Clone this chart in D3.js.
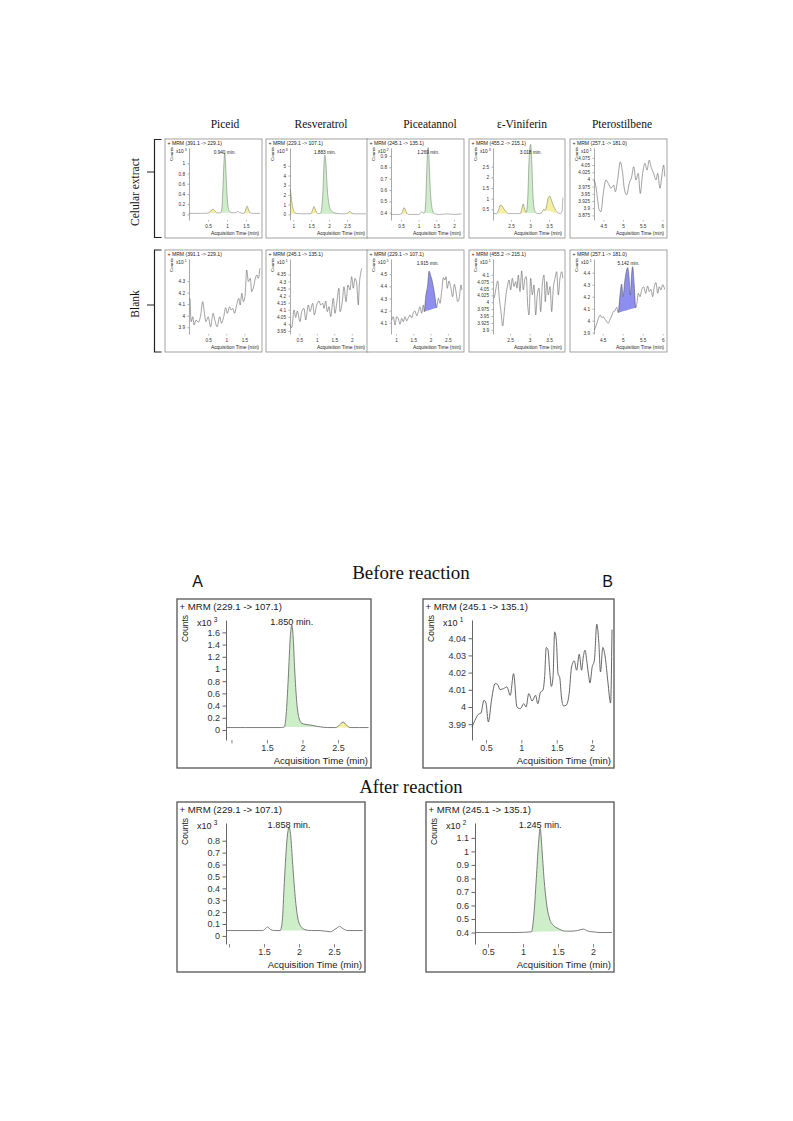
<!DOCTYPE html>
<html>
<head>
<meta charset="utf-8">
<script src="https://cdn.jsdelivr.net/npm/d3@7"></script>
<style>
  body { margin: 0; background: #fff; }
</style>
</head>
<body>
<svg id="fig" width="793" height="1121"></svg>
<script>
// ---- labels ----
const columnNames = ["Piceid", "Resveratrol", "Piceatannol", "ε-Viniferin", "Pterostilbene"]
const rowNames = ["Celular extract", "Blank"]

// ---- traces: [acquisition time (min), counts / 10^n] ----
const piceidCell = [[0.0,0.02],[0.3,0.02],[0.48,0.022],[0.54,0.04],[0.6,0.09],[0.64,0.1],[0.68,0.07],[0.74,0.03],[0.82,0.03],[0.86,0.08],[0.89,0.45],[0.92,1.0],[0.94,1.2],[0.96,1.05],[0.99,0.55],[1.02,0.2],[1.06,0.07],[1.12,0.035],[1.2,0.03],[1.25,0.04],[1.29,0.06],[1.33,0.035],[1.44,0.02],[1.48,0.06],[1.53,0.16],[1.57,0.09],[1.61,0.03],[1.7,0.02],[1.87,0.02]]
const resveratrolCell = [[0.91,2.6],[0.93,2.25],[0.96,1.3],[1.0,0.5],[1.04,0.2],[1.1,0.08],[1.2,0.06],[1.4,0.05],[1.5,0.08],[1.54,0.45],[1.58,0.8],[1.62,0.45],[1.67,0.1],[1.73,0.06],[1.78,0.3],[1.83,2.5],[1.86,5.3],[1.883,6.1],[1.91,5.3],[1.95,2.6],[2.0,1.0],[2.06,0.35],[2.15,0.15],[2.3,0.06],[2.45,0.05],[2.52,0.12],[2.58,0.3],[2.63,0.12],[2.7,0.05],[3.03,0.05]]
const piceatannolCell = [[0.22,0.385],[0.45,0.385],[0.51,0.39],[0.55,0.42],[0.59,0.445],[0.63,0.42],[0.68,0.39],[0.75,0.385],[1.0,0.385],[1.05,0.395],[1.09,0.41],[1.13,0.395],[1.17,0.4],[1.2,0.5],[1.23,0.77],[1.25,0.93],[1.269,0.975],[1.29,0.9],[1.32,0.66],[1.36,0.48],[1.4,0.415],[1.45,0.39],[1.6,0.385],[1.8,0.39],[2.0,0.385],[2.22,0.39]]
const viniferinCell = [[2.03,0.3],[2.12,0.3],[2.17,0.45],[2.22,0.7],[2.27,0.65],[2.32,0.5],[2.38,0.38],[2.43,0.3],[2.6,0.3],[2.74,0.3],[2.78,0.5],[2.82,0.75],[2.86,0.5],[2.9,0.35],[2.94,1.0],[2.98,3.0],[3.018,3.55],[3.05,2.5],[3.08,1.1],[3.12,0.45],[3.17,0.32],[3.25,0.3],[3.31,0.35],[3.36,0.5],[3.4,0.45],[3.44,0.7],[3.48,1.05],[3.52,1.12],[3.57,0.9],[3.62,0.65],[3.68,0.45],[3.75,0.32],[3.8,0.3],[3.84,0.4],[3.865,1.05]]
const pterostilbeneCell = [[4.27,3.998],[4.314,3.974],[4.357,3.928],[4.398,3.893],[4.441,3.888],[4.499,3.951],[4.568,3.998],[4.626,3.986],[4.694,3.969],[4.763,3.98],[4.804,3.957],[4.865,4.0],[4.931,4.061],[4.991,4.021],[5.032,3.969],[5.093,3.946],[5.159,3.986],[5.22,4.009],[5.271,4.044],[5.329,3.998],[5.387,4.021],[5.438,3.951],[5.499,4.021],[5.557,4.056],[5.608,4.032],[5.667,4.067],[5.71,4.044],[5.778,4.021],[5.837,3.998],[5.88,4.021],[5.938,3.969],[5.989,4.015],[6.03,4.05],[6.06,4.01]]

const piceidBlank = [[0.0,4.151],[0.029,3.948],[0.075,3.991],[0.11,3.919],[0.165,3.963],[0.227,3.943],[0.293,4.006],[0.347,4.122],[0.391,4.035],[0.437,3.948],[0.5,3.991],[0.565,3.904],[0.636,4.021],[0.683,3.963],[0.745,3.904],[0.819,3.991],[0.865,3.934],[0.928,3.991],[0.982,4.07],[1.028,4.021],[1.091,4.078],[1.137,4.05],[1.181,4.064],[1.228,4.021],[1.29,4.099],[1.345,4.151],[1.383,4.093],[1.427,4.195],[1.473,4.122],[1.519,4.18],[1.563,4.397],[1.609,4.296],[1.664,4.325],[1.699,4.209],[1.754,4.252],[1.8,4.325],[1.846,4.354],[1.882,4.325],[1.925,4.412]]
const resveratrolBlank = [[0.234,3.993],[0.283,3.974],[0.349,4.099],[0.397,4.045],[0.443,4.092],[0.52,4.016],[0.569,4.087],[0.634,4.11],[0.683,4.028],[0.757,4.134],[0.806,4.087],[0.883,4.146],[0.929,4.064],[0.997,4.134],[1.063,4.162],[1.111,4.134],[1.169,4.146],[1.206,4.11],[1.254,4.162],[1.3,4.087],[1.349,4.122],[1.397,4.052],[1.471,4.181],[1.52,4.075],[1.569,4.146],[1.634,4.252],[1.663,4.087],[1.729,4.157],[1.777,4.263],[1.834,4.157],[1.891,4.275],[1.949,4.24],[1.997,4.334],[2.043,4.252],[2.091,4.322],[2.14,4.287],[2.186,4.134],[2.214,4.275],[2.254,4.358],[2.283,4.393]]
const piceatannolBlank = [[0.876,4.122],[0.922,4.15],[0.971,4.081],[1.019,4.15],[1.067,4.131],[1.116,4.087],[1.164,4.136],[1.212,4.108],[1.26,4.15],[1.308,4.114],[1.356,4.141],[1.405,4.164],[1.453,4.141],[1.501,4.183],[1.549,4.197],[1.597,4.158],[1.646,4.191],[1.694,4.232],[1.742,4.178],[1.79,4.246],[1.818,4.191],[1.858,4.315],[1.916,4.412],[1.954,4.527],[2.003,4.488],[2.04,4.453],[2.079,4.398],[2.127,4.315],[2.176,4.224],[2.224,4.302],[2.272,4.26],[2.32,4.356],[2.368,4.472],[2.416,4.453],[2.445,4.48],[2.483,4.384],[2.532,4.445],[2.58,4.398],[2.638,4.315],[2.686,4.417],[2.734,4.356],[2.783,4.274],[2.83,4.307],[2.879,4.412],[2.905,4.37]]
const viniferinBlank = [[2.097,4.0145],[2.141,4.051],[2.185,4.0775],[2.226,4.0145],[2.269,3.966],[2.313,3.914],[2.354,3.966],[2.397,4.027],[2.441,4.063],[2.474,4.081],[2.518,4.045],[2.559,4.087],[2.603,4.057],[2.646,4.075],[2.679,4.051],[2.713,4.099],[2.756,4.039],[2.8,4.114],[2.841,4.045],[2.885,4.087],[2.918,4.093],[2.954,3.99],[2.987,3.954],[3.031,4.087],[3.072,4.027],[3.115,4.063],[3.159,3.954],[3.2,4.027],[3.244,4.051],[3.287,3.966],[3.328,4.063],[3.372,4.099],[3.405,4.002],[3.441,4.075],[3.482,4.027],[3.526,4.057],[3.569,3.966],[3.61,4.051],[3.654,4.087],[3.697,4.111],[3.738,4.027],[3.782,4.087],[3.826,4.111],[3.855,4.087]]
const pterostilbeneBlank = [[4.29,3.922],[4.333,3.956],[4.375,4.0],[4.408,4.033],[4.44,4.047],[4.475,4.025],[4.515,4.033],[4.558,4.011],[4.6,3.992],[4.64,3.978],[4.683,4.011],[4.725,4.039],[4.765,4.075],[4.808,4.083],[4.85,4.111],[4.89,4.067],[4.933,4.214],[4.975,4.306],[5.008,4.2],[5.05,4.325],[5.09,4.408],[5.125,4.442],[5.158,4.367],[5.19,4.214],[5.225,4.394],[5.25,4.45],[5.283,4.325],[5.325,4.108],[5.358,4.15],[5.39,4.228],[5.433,4.2],[5.475,4.256],[5.525,4.283],[5.575,4.228],[5.625,4.289],[5.665,4.242],[5.708,4.261],[5.75,4.2],[5.79,4.283],[5.833,4.317],[5.875,4.228],[5.915,4.283],[5.958,4.256],[6.0,4.3],[6.05,4.26]]

const resveratrolBefore = [[0.93,0.04],[1.2,0.04],[1.5,0.04],[1.7,0.04],[1.745,0.05],[1.77,0.25],[1.8,0.85],[1.83,1.55],[1.85,1.72],[1.87,1.5],[1.89,1.0],[1.92,0.45],[1.95,0.2],[1.99,0.11],[2.05,0.09],[2.12,0.08],[2.2,0.06],[2.26,0.05],[2.35,0.04],[2.47,0.04],[2.52,0.08],[2.57,0.13],[2.62,0.08],[2.67,0.04],[2.8,0.04],[2.93,0.04]]
const piceatannolBefore = [[0.302,3.9883],[0.343,3.9922],[0.39,3.9957],[0.429,3.9965],[0.471,4.0039],[0.5,4.0023],[0.533,3.9913],[0.581,4.0049],[0.629,4.0136],[0.662,4.0132],[0.7,4.0101],[0.748,4.0107],[0.795,4.0117],[0.843,4.0068],[0.89,4.0194],[0.938,4.0],[0.986,3.999],[1.033,4.0019],[1.067,4.0],[1.105,4.0078],[1.152,4.0035],[1.2,4.0068],[1.233,4.0019],[1.271,4.0087],[1.305,4.0097],[1.329,4.0175],[1.352,4.0346],[1.376,4.0334],[1.4,4.0214],[1.424,4.012],[1.448,4.0175],[1.471,4.0437],[1.495,4.0388],[1.519,4.0194],[1.543,4.0171],[1.567,4.0058],[1.595,4.0006],[1.633,4.001],[1.676,4.0078],[1.71,4.0233],[1.748,4.0268],[1.781,4.0214],[1.819,4.0307],[1.852,4.0214],[1.876,4.0291],[1.9,4.033],[1.924,4.0272],[1.948,4.0194],[1.971,4.014],[2.0,4.0229],[2.033,4.0272],[2.067,4.0482],[2.095,4.0379],[2.119,4.0204],[2.152,4.0346],[2.186,4.0291],[2.224,4.0146],[2.262,4.0023],[2.282,4.045]]
const resveratrolAfter = [[0.96,0.045],[1.3,0.045],[1.48,0.045],[1.52,0.06],[1.55,0.075],[1.59,0.055],[1.65,0.045],[1.73,0.045],[1.76,0.12],[1.79,0.45],[1.83,0.82],[1.858,0.915],[1.88,0.85],[1.91,0.6],[1.95,0.3],[1.99,0.13],[2.04,0.07],[2.1,0.05],[2.18,0.045],[2.3,0.045],[2.45,0.035],[2.5,0.05],[2.55,0.07],[2.58,0.08],[2.63,0.06],[2.7,0.045],[2.91,0.045]]
const piceatannolAfter = [[0.32,0.4],[0.6,0.4],[0.9,0.4],[1.12,0.405],[1.15,0.5],[1.19,0.8],[1.22,1.05],[1.245,1.17],[1.27,1.02],[1.3,0.8],[1.34,0.6],[1.38,0.5],[1.43,0.455],[1.5,0.43],[1.6,0.41],[1.7,0.41],[1.78,0.415],[1.86,0.425],[1.93,0.41],[2.0,0.405],[2.1,0.4],[2.27,0.4]]

// ---- tick values ----
const piceidCellY = [0, 0.2, 0.4, 0.6, 0.8, 1]
const resveratrolCellY = [0, 1, 2, 3, 4, 5]
const piceatannolCellY = [0.4, 0.5, 0.6, 0.7, 0.8, 0.9]
const viniferinCellY = [0.5, 1, 1.5, 2, 2.5]
const pterostilbeneCellY = [3.875, 3.9, 3.925, 3.95, 3.975, 4, 4.025, 4.05, 4.075]
const piceidBlankY = [3.9, 4, 4.1, 4.2, 4.3]
const resveratrolBlankY = [3.95, 4, 4.05, 4.1, 4.15, 4.2, 4.25, 4.3, 4.35]
const piceatannolBlankY = [4.1, 4.2, 4.3, 4.4, 4.5]
const viniferinBlankY = [3.9, 3.925, 3.95, 3.975, 4, 4.025, 4.05, 4.075, 4.1]
const pterostilbeneBlankY = [3.9, 4, 4.1, 4.2, 4.3, 4.4]
const resveratrolBeforeY = [0, 0.2, 0.4, 0.6, 0.8, 1, 1.2, 1.4, 1.6]
const piceatannolBeforeY = [3.99, 4, 4.01, 4.02, 4.03, 4.04]
const resveratrolAfterY = [0, 0.1, 0.2, 0.3, 0.4, 0.5, 0.6, 0.7, 0.8]
const piceatannolAfterY = [0.4, 0.5, 0.6, 0.7, 0.8, 0.9, 1, 1.1]

const piceidX = [0.5, 1, 1.5]
const resveratrolX = [1, 1.5, 2, 2.5]
const piceatannolX = [0.5, 1, 1.5, 2]
const viniferinX = [2.5, 3, 3.5]
const pterostilbeneX = [4.5, 5, 5.5, 6]
const piceatannolBlankX = [1, 1.5, 2, 2.5]
const reactionX = [1, 1.5, 2, 2.5]
const reactionBX = [0.5, 1, 1.5, 2]

// ---- styling ----
const SANS = "'Liberation Sans', Arial, sans-serif"
const SERIF = "'Liberation Serif', 'Times New Roman', serif"
const fillColors = { g: "#cdeec8", y: "#f5f0a0", b: "#8e8ef0" }

const smallStyle = { left: 24, top: 9, bottom: 18, tick: 1.5, tickFont: 4.7, titleFont: 5.1, axisTitleFont: 4.9,
  countsFont: 4.4, line: 0.55, axisW: 0.5, border: "#8c8c8c", borderW: 0.8, titleDy: 6, countsX: 7.5, countsY: 8,
  expDx: -13, expY: 13.5, peakDy: 6, peakFont: 4.7, xLabelDy: 8, axisTitleUp: 3.5, labelGap: 3 }
const bigStyle = { left: 49, top: 21, bottom: 28, tick: 3.5, tickFont: 9, titleFont: 9.6, axisTitleFont: 9.6,
  countsFont: 8.5, line: 0.9, axisW: 0.9, border: "#555", borderW: 1.3, titleDy: 11, countsX: 11, countsY: 16,
  expDx: -29, expY: 27, peakDy: 5, peakFont: 9.2, xLabelDy: 11, axisTitleUp: 4.5, labelGap: 5 }

const panels = [
  // cellular extract row
  { box: [165, 139, 97, 99], title: "+ MRM (391.1 -> 229.1)", exp: "3", data: piceidCell, xDomain: [0.0, 1.87], yDomain: [-0.11, 1.30],
    xTicks: piceidX, yTicks: piceidCellY, trace: "#777", peak: [0.94, "0.940 min."],
    fills: [{ t0: 0.48, t1: 0.74, c: "y" }, { t0: 0.82, t1: 1.12, c: "g" }, { t0: 1.44, t1: 1.61, c: "y" }] },
  { box: [266, 139, 102, 99], title: "+ MRM (229.1 -> 107.1)", exp: "3", data: resveratrolCell, xDomain: [0.91, 3.03], yDomain: [-0.59, 6.84],
    xTicks: resveratrolX, yTicks: resveratrolCellY, trace: "#777", peak: [1.883, "1.883 min."],
    fills: [{ t0: 0.91, t1: 1.1, c: "y", base: 0.06 }, { t0: 1.5, t1: 1.67, c: "y" }, { t0: 1.73, t1: 2.3, c: "g" }, { t0: 2.45, t1: 2.7, c: "y" }] },
  { box: [367, 139, 97, 99], title: "+ MRM (245.1 -> 135.1)", exp: "2", data: piceatannolCell, xDomain: [0.217, 2.228], yDomain: [0.336, 0.97],
    xTicks: piceatannolX, yTicks: piceatannolCellY, trace: "#777", peak: [1.269, "1.269 min."],
    fills: [{ t0: 0.51, t1: 0.68, c: "y" }, { t0: 1.17, t1: 1.45, c: "g" }] },
  { box: [469, 139, 96, 99], title: "+ MRM (455.2 -> 215.1)", exp: "3", data: viniferinCell, xDomain: [2.026, 3.868], yDomain: [0.0, 3.378],
    xTicks: viniferinX, yTicks: viniferinCellY, trace: "#777", peak: [3.018, "3.018 min."],
    fills: [{ t0: 2.12, t1: 2.43, c: "y" }, { t0: 2.74, t1: 2.9, c: "y" }, { t0: 2.9, t1: 3.17, c: "g" }, { t0: 3.25, t1: 3.4, c: "y" }, { t0: 3.4, t1: 3.8, c: "y" }] },
  { box: [570, 139, 97, 99], title: "+ MRM (257.1 -> 181.0)", exp: "1", data: pterostilbeneCell, xDomain: [4.264, 6.066], yDomain: [3.859, 4.109],
    xTicks: pterostilbeneX, yTicks: pterostilbeneCellY, trace: "#555", fills: [] },
  // blank row
  { box: [165, 250, 97, 102], title: "+ MRM (391.1 -> 229.1)", exp: "1", data: piceidBlank, xDomain: [-0.03, 1.93], yDomain: [3.841, 4.493],
    xTicks: piceidX, yTicks: piceidBlankY, trace: "#555", fills: [] },
  { box: [266, 250, 102, 102], title: "+ MRM (245.1 -> 135.1)", exp: "1", data: resveratrolBlank, xDomain: [0.234, 2.406], yDomain: [3.929, 4.459],
    xTicks: piceatannolX, yTicks: resveratrolBlankY, trace: "#555", fills: [] },
  { box: [367, 250, 97, 102], title: "+ MRM (229.1 -> 107.1)", exp: "1", data: piceatannolBlank, xDomain: [0.855, 2.908], yDomain: [4.007, 4.626],
    xTicks: piceatannolBlankX, yTicks: piceatannolBlankY, trace: "#555", peak: [1.915, "1.915 min."],
    fills: [{ t0: 1.818, t1: 2.176, c: "b" }] },
  { box: [469, 250, 96, 102], title: "+ MRM (455.2 -> 215.1)", exp: "1", data: viniferinBlank, xDomain: [2.064, 3.859], yDomain: [3.885, 4.157],
    xTicks: viniferinX, yTicks: viniferinBlankY, trace: "#555", fills: [] },
  { box: [570, 250, 97, 102], title: "+ MRM (257.1 -> 181.0)", exp: "1", data: pterostilbeneBlank, xDomain: [4.283, 6.058], yDomain: [3.889, 4.514],
    xTicks: pterostilbeneX, yTicks: pterostilbeneBlankY, trace: "#555", peak: [5.142, "5.142 min."],
    fills: [{ t0: 4.89, t1: 5.325, c: "b" }] },
  // before / after reaction
  { big: true, box: [177, 599, 194, 169], title: "+ MRM (229.1 -> 107.1)", exp: "3", data: resveratrolBefore, xDomain: [0.923, 2.937], yDomain: [-0.164, 1.803],
    xTicks: reactionX, xNoLabel: [1], yTicks: resveratrolBeforeY, trace: "#6e6e6e", peak: [1.85, "1.850 min."],
    fills: [{ t0: 1.745, t1: 2.26, c: "g" }, { t0: 2.47, t1: 2.67, c: "y" }] },
  { big: true, box: [423, 599, 191, 169], title: "+ MRM (245.1 -> 135.1)", exp: "1", data: piceatannolBefore, xDomain: [0.302, 2.282], yDomain: [3.9808, 4.0506],
    xTicks: reactionBX, yTicks: piceatannolBeforeY, trace: "#555", fills: [] },
  { big: true, box: [177, 802, 188, 170], title: "+ MRM (229.1 -> 107.1)", exp: "3", data: resveratrolAfter, xDomain: [0.957, 2.914], yDomain: [-0.068, 0.949],
    xTicks: reactionX, xNoLabel: [1], yTicks: resveratrolAfterY, trace: "#6e6e6e", peak: [1.858, "1.858 min."],
    fills: [{ t0: 1.73, t1: 2.18, c: "g" }] },
  { big: true, box: [426, 802, 188, 170], title: "+ MRM (245.1 -> 135.1)", exp: "2", data: piceatannolAfter, xDomain: [0.314, 2.271], yDomain: [0.315, 1.21],
    xTicks: reactionBX, yTicks: piceatannolAfterY, trace: "#6e6e6e", peak: [1.245, "1.245 min."],
    fills: [{ t0: 1.12, t1: 1.6, c: "g" }] }
]

const svg = d3.select("#fig")

function drawPanel(p) {
  const st = p.big ? bigStyle : smallStyle
  const [bx, by, w, h] = p.box
  const left = bx + st.left, right = bx + w - 2
  const top = by + st.top, bottom = by + h - st.bottom

  const x = d3.scaleLinear().domain(p.xDomain).range([left, right])
  const y = d3.scaleLinear().domain(p.yDomain).range([bottom, top])

  const g = svg.append("g").attr("font-family", SANS).attr("fill", "#222")

  g.append("rect")
    .attr("x", bx).attr("y", by).attr("width", w).attr("height", h)
    .attr("fill", "#fff").attr("stroke", st.border)
    .attr("stroke-width", st.borderW)

  g.append("text").attr("x", bx + 2.5).attr("y", by + st.titleDy)
    .attr("font-size", st.titleFont).text(p.title)

  g.append("text")
    .attr("transform", `translate(${bx + st.countsX},${by + st.countsY}) rotate(-90)`)
    .attr("text-anchor", "end").attr("font-size", st.countsFont).text("Counts")

  const e = g.append("text").attr("x", left + st.expDx).attr("y", by + st.expY)
    .attr("font-size", st.tickFont).text("x10")
  e.append("tspan").attr("dx", st.tickFont * 0.25).attr("dy", -st.tickFont * 0.4)
    .attr("font-size", st.tickFont * 0.72).text(p.exp)

  // integrated peaks
  p.fills.forEach(f => {
    const seg = p.data.filter(d => d[0] >= f.t0 - 1e-9 && d[0] <= f.t1 + 1e-9)
    const a = seg[0], b = seg[seg.length - 1]
    const base = t => f.base != null ? f.base : a[1] + (b[1] - a[1]) * (t - a[0]) / (b[0] - a[0])
    g.append("path").datum(seg)
      .attr("fill", fillColors[f.c])
      .attr("d", d3.area().curve(d3.curveMonotoneX)
        .x(d => x(d[0])).y0(d => y(base(d[0]))).y1(d => y(d[1])))
  })

  // trace
  g.append("path").datum(p.data)
    .attr("fill", "none").attr("stroke", p.trace).attr("stroke-width", st.line)
    .attr("stroke-linejoin", "round")
    .attr("d", d3.line().curve(d3.curveMonotoneX).x(d => x(d[0])).y(d => y(d[1])))

  // y axis
  const ya = g.append("g").attr("transform", `translate(${left},0)`)
    .call(d3.axisLeft(y).tickValues(p.yTicks).tickSize(st.tick).tickSizeOuter(0)
      .tickPadding(st.labelGap - st.tick + 1).tickFormat(d => String(d)))
  ya.attr("font-family", SANS).attr("font-size", st.tickFont)
  ya.select(".domain").attr("stroke", "#555").attr("stroke-width", st.axisW)
  ya.selectAll(".tick line").attr("stroke", "#555").attr("stroke-width", st.axisW)
  ya.selectAll(".tick text").attr("fill", "#333")

  // x axis (ticks only)
  const hidden = p.xNoLabel || []
  const xa = g.append("g").attr("transform", `translate(0,${bottom})`)
    .call(d3.axisBottom(x).tickValues(p.xTicks).tickSize(st.tick).tickSizeOuter(0)
      .tickFormat(d => hidden.includes(d) ? "" : String(d)))
  xa.attr("font-family", SANS).attr("font-size", st.tickFont)
  xa.select(".domain").remove()
  xa.selectAll(".tick line").attr("stroke", "#777").attr("stroke-width", st.axisW)
  xa.selectAll(".tick text").attr("y", st.xLabelDy).attr("dy", null).attr("fill", "#333")

  g.append("text").attr("x", right - 1).attr("y", by + h - st.axisTitleUp)
    .attr("text-anchor", "end").attr("font-size", st.axisTitleFont).text("Acquisition Time (min)")

  if (p.peak) {
    g.append("text").attr("x", x(p.peak[0])).attr("y", top + st.peakDy)
      .attr("text-anchor", "middle").attr("font-size", st.peakFont).text(p.peak[1])
  }
}

panels.forEach(drawPanel)

// ---- column headers and row labels ----
const headerX = [225, 321, 430, 522, 622]
svg.append("g").selectAll("text").data(columnNames).join("text")
  .attr("x", (d, i) => headerX[i]).attr("y", 128)
  .attr("text-anchor", "middle").attr("font-family", SERIF).attr("font-size", 11.5)
  .attr("fill", "#111").text(d => d)

const rowY = [192, 304]
svg.append("g").selectAll("text").data(rowNames).join("text")
  .attr("transform", (d, i) => `translate(138.5,${rowY[i]}) rotate(-90)`)
  .attr("text-anchor", "middle").attr("font-family", SERIF).attr("font-size", 11.5)
  .attr("fill", "#111").text(d => d)

// braces
const braces = [[139.5, 237.5, 172], [250, 352, 305]]
braces.forEach(([y0, y1, ym]) => {
  svg.append("path")
    .attr("d", `M161.5,${y0}H154.5V${y1}H161.5M154.5,${ym}H147`)
    .attr("fill", "none").attr("stroke", "#222").attr("stroke-width", 1.2)
})

// ---- before / after titles ----
svg.append("text").attr("x", 411).attr("y", 579).attr("text-anchor", "middle")
  .attr("font-family", SERIF).attr("font-size", 19).attr("fill", "#111").text("Before reaction")
svg.append("text").attr("x", 411).attr("y", 793).attr("text-anchor", "middle")
  .attr("font-family", SERIF).attr("font-size", 18.5).attr("fill", "#111").text("After reaction")
svg.append("text").attr("x", 197.5).attr("y", 587).attr("text-anchor", "middle")
  .attr("font-family", SANS).attr("font-size", 16).attr("fill", "#111").text("A")
svg.append("text").attr("x", 607.5).attr("y", 587).attr("text-anchor", "middle")
  .attr("font-family", SANS).attr("font-size", 16).attr("fill", "#111").text("B")
</script>
</body>
</html>
